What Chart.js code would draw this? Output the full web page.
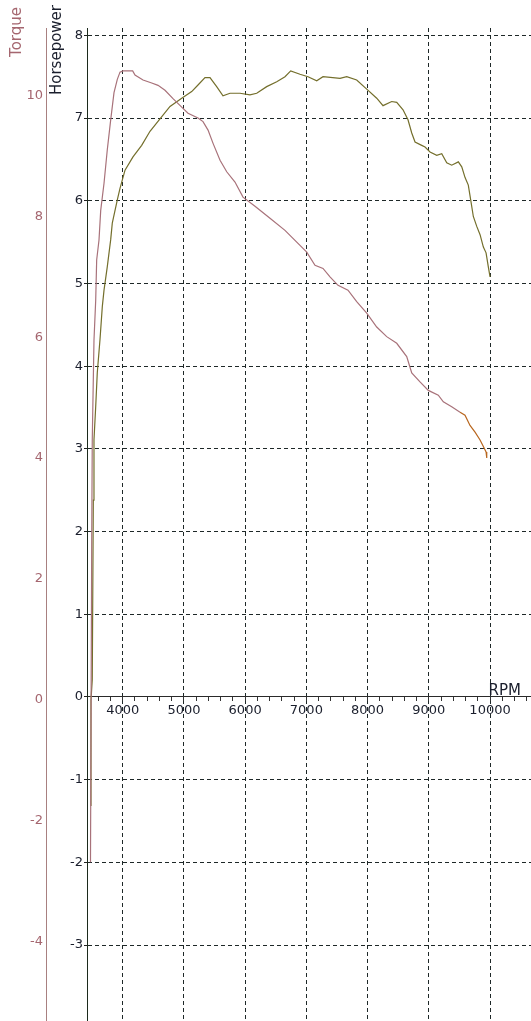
<!DOCTYPE html>
<html>
<head>
<meta charset="utf-8">
<title>Dyno run</title>
<script src="https://cdn.jsdelivr.net/npm/chart.js@4.4.0/dist/chart.umd.min.js"></script>
<style>
  html, body { margin: 0; padding: 0; background: #fff; }
  #wrap { width: 531px; height: 1021px; }
</style>
</head>
<body>
<div id="wrap"><canvas id="myChart"></canvas></div>
<script>
/****************
--- DATA ---
*****************/

// torque curve (left outer axis)
const torqueRpm = [3474, 3494, 3503, 3531, 3559, 3575, 3613, 3641, 3695, 3748,
  3804, 3858, 3912, 3956, 4005, 4163, 4201, 4332, 4474, 4577,
  4691, 4822, 4964, 5067, 5230, 5312, 5394, 5476, 5590, 5699,
  5834, 5965, 6161, 6406, 6651, 6896, 7006, 7141, 7272, 7386,
  7517, 7680, 7822, 7986, 8149, 8312, 8476, 8639, 8721, 8856,
  8992, 9155, 9237, 9374, 9510, 9591, 9673, 9755, 9837, 9891,
  9935, 9946];
const torqueValues = [-2.69, 2.64, 4.30, 5.95, 6.61, 7.28, 7.61, 8.10, 8.55, 9.10,
  9.60, 10.05, 10.27, 10.39, 10.41, 10.41, 10.34, 10.26, 10.21, 10.17,
  10.09, 9.95, 9.81, 9.71, 9.63, 9.57, 9.43, 9.21, 8.93, 8.74,
  8.57, 8.32, 8.17, 7.97, 7.77, 7.52, 7.41, 7.19, 7.14, 7.00,
  6.86, 6.78, 6.59, 6.40, 6.17, 6.01, 5.90, 5.68, 5.41, 5.26,
  5.12, 5.04, 4.93, 4.85, 4.76, 4.71, 4.54, 4.43, 4.30, 4.19,
  4.10, 4.00];

// horsepower curve (left inner axis)
const hpRpm = [3474, 3482, 3503, 3520, 3531, 3559, 3585, 3629, 3667, 3695,
  3748, 3804, 3830, 3912, 3956, 4038, 4168, 4310, 4446, 4609,
  4773, 4964, 5127, 5230, 5344, 5426, 5535, 5638, 5753, 5916,
  6079, 6189, 6352, 6516, 6651, 6744, 6896, 7027, 7169, 7272,
  7550, 7659, 7822, 7986, 8149, 8252, 8394, 8476, 8579, 8660,
  8721, 8775, 8884, 8938, 9020, 9129, 9211, 9293, 9374, 9482,
  9538, 9592, 9645, 9684, 9727, 9783, 9837, 9891, 9935, 9972,
  10000];
const hpValues = [-1.31, -0.04, 0.21, 2.38, 3.11, 3.51, 3.92, 4.32, 4.72, 4.92,
  5.20, 5.53, 5.73, 6.01, 6.15, 6.37, 6.53, 6.67, 6.84, 6.99,
  7.14, 7.24, 7.32, 7.40, 7.49, 7.49, 7.38, 7.27, 7.30, 7.30,
  7.28, 7.30, 7.38, 7.44, 7.50, 7.57, 7.53, 7.50, 7.45, 7.50,
  7.48, 7.50, 7.46, 7.35, 7.24, 7.15, 7.20, 7.19, 7.10, 6.98,
  6.82, 6.71, 6.67, 6.65, 6.59, 6.55, 6.57, 6.46, 6.43, 6.47,
  6.41, 6.28, 6.19, 6.01, 5.81, 5.69, 5.59, 5.44, 5.37, 5.20,
  5.08];

// torque trace turns orange from here on
const highlightFromRpm = 9510;

// axis ranges
const rpmRange = [3417, 10669];
const hpRange = [-3.918, 8.089];
const torqueRange = [-5.32, 11.12];

/****************
--- STYLE ---
*****************/

const PINK = "#a8727a";
const ORANGE = "#b8661e";
const OLIVE = "#746f2c";
const GRID = "#1e2828";
const TQ_TEXT = "#a5666f";
const TQ_LINE = "#a88080";
const HP_TEXT = "#1a1e2c";
const FONT = "DejaVu Sans";
const CLEAR = "rgba(0,0,0,0)";

const toPoints = (xs, ys) => xs.map((x, i) => ({ x: x, y: ys[i] }));

// rotated axis titles + RPM label sit outside the chart area
const axisTitles = {
  id: "axisTitles",
  afterDraw(chart) {
    const ctx = chart.ctx;
    ctx.save();
    ctx.font = `15px "${FONT}"`;
    ctx.textBaseline = "alphabetic";

    ctx.fillStyle = TQ_TEXT;
    ctx.save();
    ctx.translate(21, 7);
    ctx.rotate(-Math.PI / 2);
    ctx.textAlign = "right";
    ctx.fillText("Torque", 0, 0);
    ctx.restore();

    ctx.fillStyle = HP_TEXT;
    ctx.save();
    ctx.translate(61, 5);
    ctx.rotate(-Math.PI / 2);
    ctx.textAlign = "right";
    ctx.fillText("Horsepower", 0, 0);
    ctx.restore();

    ctx.fillStyle = HP_TEXT;
    ctx.textAlign = "right";
    ctx.fillText("RPM", 521, 695);
    ctx.restore();
  },
};

/****************
--- CHART ---
*****************/

const ctx = document.getElementById("myChart").getContext("2d");
const myChart = new Chart(ctx, {
  type: "line",
  data: {
    datasets: [
      {
        label: "Torque",
        data: toPoints(torqueRpm, torqueValues),
        yAxisID: "torque",
        borderColor: PINK,
        borderWidth: 1.2,
        pointRadius: 0,
        tension: 0,
        segment: {
          borderColor: (c) => (c.p0.parsed.x >= highlightFromRpm ? ORANGE : PINK),
        },
      },
      {
        label: "Horsepower",
        data: toPoints(hpRpm, hpValues),
        yAxisID: "hp",
        borderColor: OLIVE,
        borderWidth: 1.2,
        pointRadius: 0,
        tension: 0,
      },
    ],
  },
  options: {
    responsive: true,
    maintainAspectRatio: false,
    animation: false,
    devicePixelRatio: 1,
    layout: { padding: { top: 28, left: 0, right: 0, bottom: 0 } },
    plugins: { legend: { display: false }, tooltip: { enabled: false } },
    scales: {
      x: {
        type: "linear",
        position: { hp: 0 },
        min: rpmRange[0],
        max: rpmRange[1],
        ticks: {
          stepSize: 200,
          includeBounds: false,
          autoSkip: false,
          maxRotation: 0,
          padding: 2,
          color: HP_TEXT,
          font: { family: FONT, size: 13 },
          callback: (v) => (v % 1000 === 0 ? String(v) : ""),
        },
        grid: {
          color: (c) => (c.tick && c.tick.value % 1000 === 0 ? GRID : CLEAR),
          tickColor: "#333",
          tickLength: 4,
          lineWidth: 1,
        },
        border: { display: true, color: "#2a2a2a", dash: [4, 3] },
        afterFit: (s) => {
          s.paddingLeft = 0;
          s.paddingRight = 0;
        },
      },
      hp: {
        type: "linear",
        position: "left",
        weight: 0,
        min: hpRange[0],
        max: hpRange[1],
        ticks: {
          stepSize: 1,
          includeBounds: false,
          padding: 1,
          color: HP_TEXT,
          font: { family: FONT, size: 13 },
        },
        grid: {
          color: GRID,
          tickColor: "#222",
          tickLength: 3,
          lineWidth: 1,
        },
        border: { display: true, color: "#1c2a1c", dash: [4, 3] },
        afterFit: (s) => {
          s.width = 41;
          s.paddingTop = 0;
          s.paddingBottom = 0;
        },
      },
      torque: {
        type: "linear",
        position: "left",
        weight: 1,
        min: torqueRange[0],
        max: torqueRange[1],
        ticks: {
          stepSize: 2,
          includeBounds: false,
          padding: 3,
          color: TQ_TEXT,
          font: { family: FONT, size: 13 },
        },
        grid: { drawOnChartArea: false, drawTicks: false },
        border: { display: true, color: TQ_LINE },
        afterFit: (s) => {
          s.width = 46;
          s.paddingTop = 0;
          s.paddingBottom = 0;
        },
      },
    },
  },
  plugins: [axisTitles],
});
</script>
</body>
</html>
